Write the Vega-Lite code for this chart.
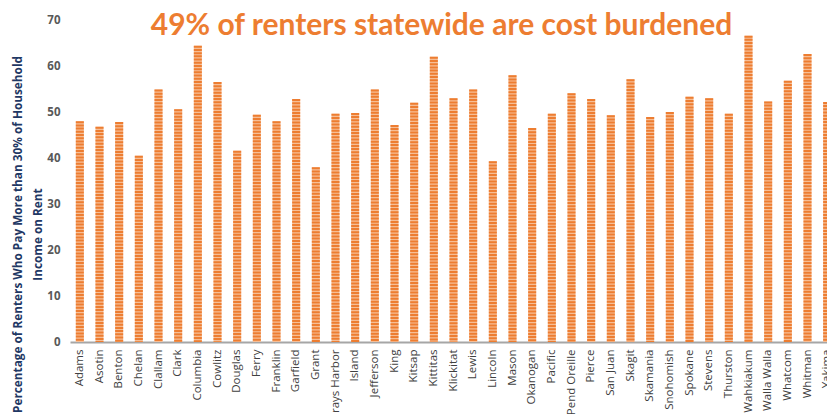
{
  "$schema": "https://vega.github.io/schema/vega-lite/v6.json",
  "width": 757,
  "height": 322,
  "autosize": {"type": "none"},
  "padding": {"left": 70, "top": 20, "right": 0, "bottom": 72},
  "background": "white",
  "title": {
    "text": "49% of renters statewide are cost burdened",
    "font": "Lato",
    "fontSize": 30,
    "fontWeight": "bold",
    "color": "#ED7D31",
    "anchor": "middle",
    "frame": "group",
    "baseline": "alphabetic",
    "offset": -51,
    "dx": -7
  },
  "data": {
    "values": [
      {"county": "Adams", "pct": 48.0},
      {"county": "Asotin", "pct": 46.8},
      {"county": "Benton", "pct": 47.8},
      {"county": "Chelan", "pct": 40.5},
      {"county": "Clallam", "pct": 54.9},
      {"county": "Clark", "pct": 50.6},
      {"county": "Columbia", "pct": 64.4},
      {"county": "Cowlitz", "pct": 56.5},
      {"county": "Douglas", "pct": 41.6},
      {"county": "Ferry", "pct": 49.4},
      {"county": "Franklin", "pct": 48.0},
      {"county": "Garfield", "pct": 52.8},
      {"county": "Grant", "pct": 38.0},
      {"county": "Grays Harbor", "pct": 49.6},
      {"county": "Island", "pct": 49.8},
      {"county": "Jefferson", "pct": 54.9},
      {"county": "King", "pct": 47.2},
      {"county": "Kitsap", "pct": 52.0},
      {"county": "Kittitas", "pct": 62.0},
      {"county": "Klickitat", "pct": 53.0},
      {"county": "Lewis", "pct": 54.9},
      {"county": "Lincoln", "pct": 39.3},
      {"county": "Mason", "pct": 58.0},
      {"county": "Okanogan", "pct": 46.5},
      {"county": "Pacific", "pct": 49.6},
      {"county": "Pend Oreille", "pct": 54.1},
      {"county": "Pierce", "pct": 52.8},
      {"county": "San Juan", "pct": 49.3},
      {"county": "Skagit", "pct": 57.1},
      {"county": "Skamania", "pct": 48.9},
      {"county": "Snohomish", "pct": 50.0},
      {"county": "Spokane", "pct": 53.3},
      {"county": "Stevens", "pct": 53.0},
      {"county": "Thurston", "pct": 49.6},
      {"county": "Wahkiakum", "pct": 66.6},
      {"county": "Walla Walla", "pct": 52.3},
      {"county": "Whatcom", "pct": 56.8},
      {"county": "Whitman", "pct": 62.6},
      {"county": "Yakima", "pct": 52.2}
    ]
  },
  "encoding": {
    "x": {
      "field": "county",
      "type": "nominal",
      "sort": null,
      "scale": {"range": [0, 767], "paddingInner": 0.59, "paddingOuter": 0.295},
      "axis": {
        "title": null,
        "labelAngle": -90,
        "labelAlign": "right",
        "labelBaseline": "middle",
        "labelPadding": 7,
        "labelFont": "Open Sans",
        "labelFontSize": 11.5,
        "labelColor": "#404040",
        "ticks": false,
        "domainColor": "#A6A6A6",
        "domainWidth": 2,
        "labelOverlap": false
      }
    },
    "y": {
      "field": "pct",
      "type": "quantitative",
      "scale": {"domain": [0, 70], "nice": false},
      "axis": {
        "values": [0, 10, 20, 30, 40, 50, 60, 70],
        "grid": false,
        "domain": false,
        "ticks": false,
        "labelPadding": 10,
        "labelFont": "Open Sans",
        "labelFontWeight": "bold",
        "labelFontSize": 11.5,
        "labelColor": "#595959",
        "title": ["Percentage of Renters Who Pay More than 30% of Household", "Income on Rent"],
        "titleFont": "Open Sans",
        "titleFontSize": 11.8,
        "titleFontWeight": "bold",
        "titleColor": "#1F3864",
        "titleAngle": -90,
        "titleAlign": "center",
        "titleBaseline": "middle",
        "titleLineHeight": 20,
        "titleX": -53,
        "titleY": 214
      }
    }
  },
  "layer": [
    {"mark": {"type": "bar", "color": "#F6BE96"}},
    {
      "mark": {"type": "rule", "color": "#ED7D31", "strokeWidth": 8, "strokeDash": [2, 1.2]},
      "encoding": {"y2": {"datum": 0}}
    }
  ],
  "config": {"view": {"stroke": null}}
}
